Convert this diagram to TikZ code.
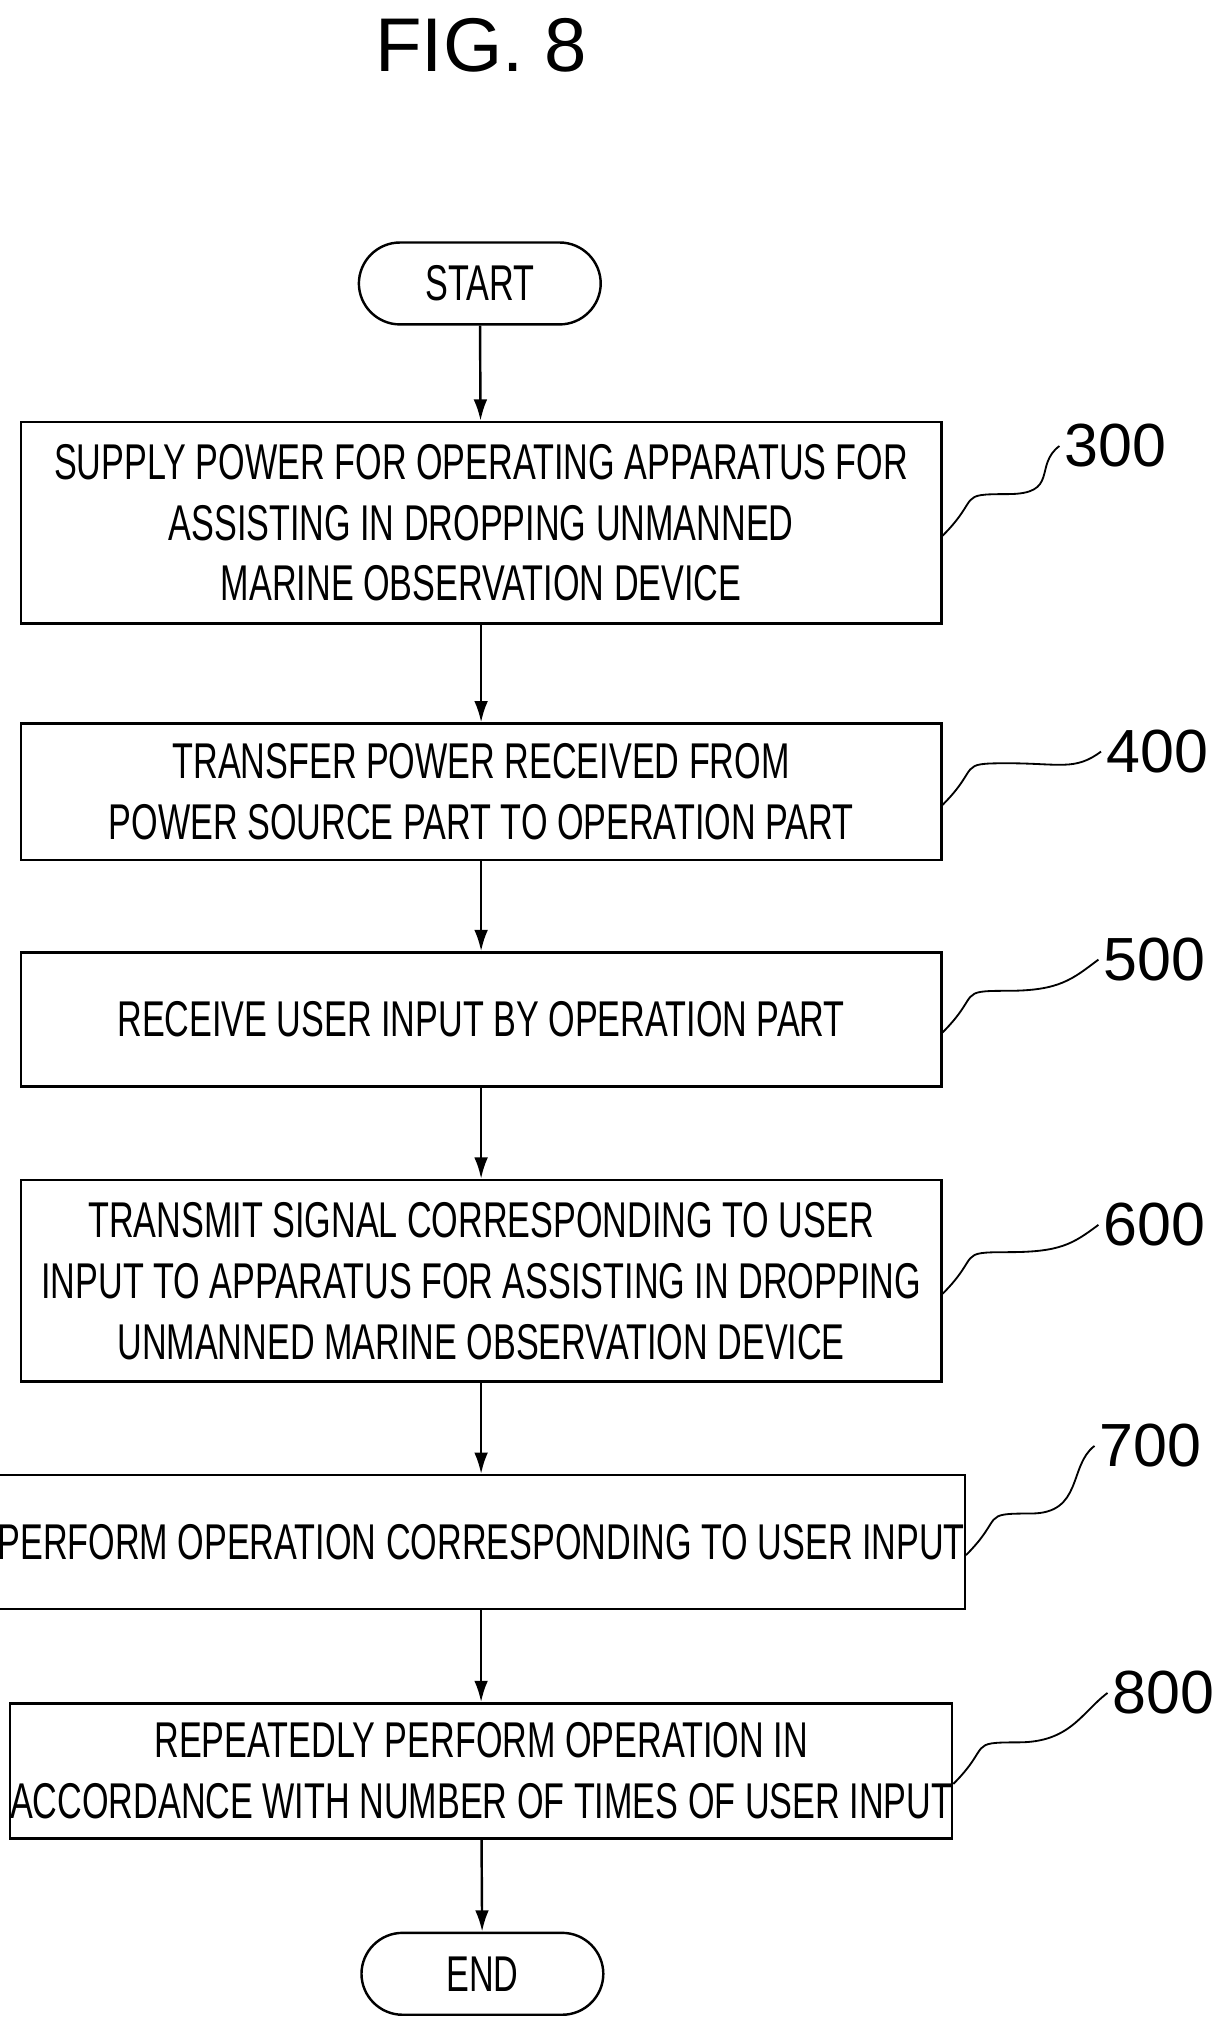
\documentclass[tikz,border=0pt]{standalone}
\usetikzlibrary{arrows.meta}
\usepackage{fontspec}
\setmainfont{Liberation Sans}
\newfontfamily\cond[FakeStretch=0.68]{Liberation Sans}
\begin{document}
\begin{tikzpicture}[x=0.03cm,y=-0.03cm,
 box/.style={draw,line width=1.6pt,minimum width=708*0.03cm,align=center,font=\cond\fontsize{33}{40}\selectfont,inner sep=0},
 term/.style={draw,line width=1.6pt,rounded corners=0.95cm,minimum width=186*0.03cm,minimum height=63*0.03cm,font=\cond\fontsize{33}{40}\selectfont},
 arr/.style={-{Latex[length=14pt,width=9pt]},line width=1.6pt},
 lab/.style={font=\fontsize{40}{40}\selectfont},
 sq/.style={line width=1.2pt}]
\useasboundingbox (0,0) rectangle (940,1562);
\node[font=\fontsize{50}{50}\selectfont] at (370,35) {FIG. 8};
\node[term] (s) at (369,218) {START};
\node[box,minimum height=155*0.03cm] (b3) at (370,402) {SUPPLY POWER FOR OPERATING APPARATUS FOR\\ASSISTING IN DROPPING UNMANNED\\MARINE OBSERVATION DEVICE};
\node[box,minimum height=105*0.03cm] (b4) at (370,609) {TRANSFER POWER RECEIVED FROM\\POWER SOURCE PART TO OPERATION PART};
\node[box,minimum height=103*0.03cm] (b5) at (370,784) {RECEIVE USER INPUT BY OPERATION PART};
\node[box,minimum height=155*0.03cm] (b6) at (370,985) {TRANSMIT SIGNAL CORRESPONDING TO USER\\INPUT TO APPARATUS FOR ASSISTING IN DROPPING\\UNMANNED MARINE OBSERVATION DEVICE};
\node[box,minimum height=103*0.03cm] (b7) at (370,1186) {PERFORM OPERATION CORRESPONDING TO USER INPUT};
\node[box,minimum height=104*0.03cm] (b8) at (370,1362) {REPEATEDLY PERFORM OPERATION IN\\ACCORDANCE WITH NUMBER OF TIMES OF USER INPUT};
\node[term] (e) at (371,1518) {END};
\draw[arr] (s) -- (b3); \draw[arr] (b3) -- (b4); \draw[arr] (b4) -- (b5);
\draw[arr] (b5) -- (b6); \draw[arr] (b6) -- (b7); \draw[arr] (b7) -- (b8); \draw[arr] (b8) -- (e);
\foreach \b/\n/\lx/\ly in {b3/300/858/343, b4/400/890/578, b5/500/888/738, b6/600/888/942, b7/700/885/1112, b8/800/895/1302}{
 \node[lab] (l\n) at (\lx,\ly) {\n};
 \draw[sq] ([yshift=-0.3cm]\b.east) .. controls +(30,-30) and +(-40,0) .. +(50,-32) .. controls +(40,0) and +(-20,15) .. (l\n.west);
}
\end{tikzpicture}
\end{document}
